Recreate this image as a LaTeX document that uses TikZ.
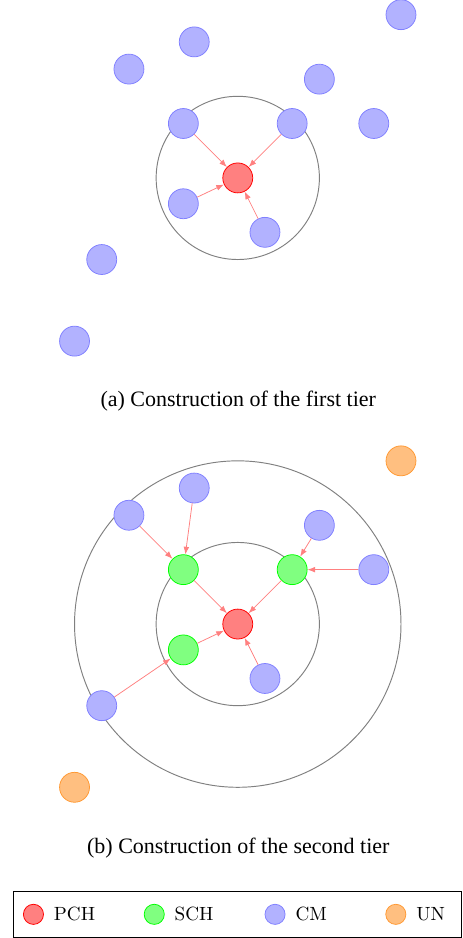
\documentclass[tikz,border=0pt]{standalone}
\usepackage{fontspec}
\newfontfamily\capfont{Liberation Serif}
\usepackage{xcolor}
\usetikzlibrary{arrows.meta,positioning}

\begin{document}
\begin{tikzpicture}[x=0.5cm,y=0.5cm,
  dev/.style={circle,minimum size=0.55cm,inner sep=0pt,line width=0.4pt},
  pchnode/.style={dev,draw=red,fill=red!50},
  schnode/.style={dev,draw=green,fill=green!50},
  cmnode/.style={dev,draw=blue!50,fill=blue!30},
  unnode/.style={dev,draw=orange!80,fill=orange!50},
  link/.style={-{Latex[length=4pt,width=3pt]},red!50,line width=0.4pt},
  tier/.style={gray,line width=0.5pt},
  caption/.style={anchor=base,font={\fontsize{11.5}{14}\selectfont\capfont}}]
\useasboundingbox (-8.74,6.54) rectangle (8.25,-27.94);

% (a) first tier
\draw[tier] (0,0) circle (3);
\node[pchnode] (p) at (0,0) {};
\node[cmnode] (c1) at (-2,2) {};
\node[cmnode] (c2) at (2,2) {};
\node[cmnode] (c3) at (-2,-0.95) {};
\node[cmnode] (c4) at (1,-2) {};
\node[cmnode] (c5) at (-1.6,5) {};
\node[cmnode] (c6) at (-4,4) {};
\node[cmnode] (c7) at (3,3.63) {};
\node[cmnode] (c8) at (5,2) {};
\node[cmnode] (c9) at (6,6) {};
\node[cmnode] (c10) at (-5,-3) {};
\node[cmnode] (c11) at (-6,-6) {};
\foreach \n in {c1,c2,c3,c4}
  \draw[link] (\n) -- (p);
\node[caption] (capa) at (0.02,-8.4) {(a) Construction of the first tier};

% (b) second tier
\begin{scope}[shift={(0,-16.4)}]
\draw[tier] (0,0) circle (3);
\draw[tier] (0,0) circle (6);
\node[pchnode] (bp) at (0,0) {};
\node[schnode] (bs1) at (-2,2) {};
\node[schnode] (bs2) at (2,2) {};
\node[schnode] (bs3) at (-2,-0.95) {};
\node[cmnode] (bc4) at (1,-2) {};
\node[cmnode] (bc5) at (-1.6,5) {};
\node[cmnode] (bc6) at (-4,4) {};
\node[cmnode] (bc7) at (3,3.63) {};
\node[cmnode] (bc8) at (5,2) {};
\node[unnode] (bu1) at (6,6) {};
\node[cmnode] (bc10) at (-5,-3) {};
\node[unnode] (bu2) at (-6,-6) {};
\foreach \n in {bs1,bs2,bs3,bc4}
  \draw[link] (\n) -- (bp);
\draw[link] (bc5) -- (bs1);
\draw[link] (bc6) -- (bs1);
\draw[link] (bc7) -- (bs2);
\draw[link] (bc8) -- (bs2);
\draw[link] (bc10) -- (bs3);
\end{scope}
\node[caption] (capb) at (0.02,-24.84) {(b) Construction of the second tier};

% legend
\node[draw,line width=0.5pt,minimum width=8.24cm,minimum height=0.84cm,inner sep=0pt] (legend) at (0,-27.07) {};
\foreach \s/\t [count=\i] in {pchnode/PCH,schnode/SCH,cmnode/CM,unnode/UN} {
  \node[\s,minimum size=0.37cm] (key\i) at ({-7.51+4.44*(\i-1)},-27.07) {};
  \node[right=0.06cm of key\i] (lab\i) {\t};
}
\end{tikzpicture}
\end{document}
